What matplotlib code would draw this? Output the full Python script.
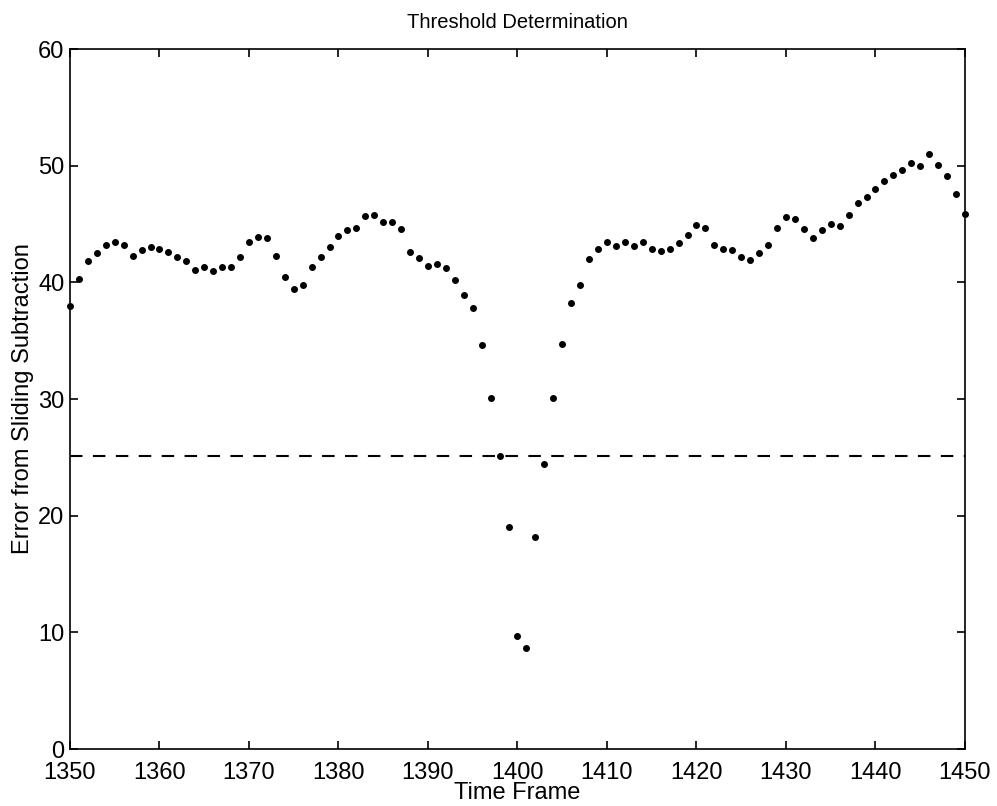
import matplotlib
matplotlib.use("Agg")
import matplotlib.pyplot as plt
import numpy as np

plt.rcParams['font.family'] = ['Liberation Sans', 'DejaVu Sans']

# frame numbers and the error measured at each one
frames = np.arange(1350, 1451)
error = [
    38.0, 40.3, 41.8, 42.5, 43.2, 43.5, 43.2, 42.3, 42.8, 43.0,
    42.9, 42.6, 42.2, 41.8, 41.1, 41.3, 41.0, 41.3, 41.3, 42.2,
    43.5, 43.9, 43.8, 42.3, 40.5, 39.4, 39.8, 41.3, 42.2, 43.0,
    44.0, 44.5, 44.7, 45.7, 45.8, 45.2, 45.2, 44.6, 42.6, 42.1,
    41.4, 41.6, 41.2, 40.2, 38.9, 37.8, 34.6, 30.1, 25.1, 19.0,
    9.7, 8.7, 18.2, 24.4, 30.1, 34.7, 38.2, 39.8, 42.0, 42.9,
    43.5, 43.1, 43.5, 43.1, 43.5, 42.9, 42.7, 42.9, 43.4, 44.1,
    44.9, 44.7, 43.2, 42.9, 42.8, 42.2, 41.9, 42.5, 43.2, 44.7,
    45.6, 45.4, 44.6, 43.8, 44.5, 45.0, 44.8, 45.8, 46.8, 47.3,
    48.0, 48.7, 49.2, 49.6, 50.2, 50.0, 51.0, 50.1, 49.1, 47.6,
    45.9,
]
threshold = 25.1

fig = plt.figure(figsize=(9.97, 8.06), dpi=100)
ax = fig.add_axes([0.0702, 0.0707, 0.8977, 0.8685])

ax.plot(frames, error, 'o', color='black', markersize=4, clip_on=False)
ax.axhline(threshold, color='black', linewidth=1.5, dashes=(6, 5))

ax.set_xlim(1350, 1450)
ax.set_ylim(0, 60)
ax.set_xticks(np.arange(1350, 1451, 10))
ax.set_yticks(np.arange(0, 61, 10))

ax.tick_params(direction='in', length=6, width=1.2, labelsize=17,
               top=True, right=True)
ax.tick_params(axis='x', pad=9)
ax.tick_params(axis='y', pad=4)
for spine in ax.spines.values():
    spine.set_linewidth(1.2)

ax.set_title("Threshold Determination", fontsize=14.5, pad=15)
ax.set_xlabel("Time Frame", fontsize=17, labelpad=-1)
ax.set_ylabel("Error from Sliding Subtraction", fontsize=17, labelpad=3)

fig.savefig("out.png", dpi=100)
